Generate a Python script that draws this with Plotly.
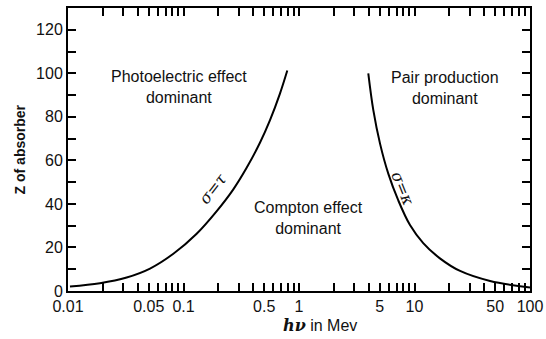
import numpy as np
import plotly.graph_objects as go

# sigma = tau boundary (photoelectric / Compton)
tau_hv = [0.0104, 0.0189, 0.0322, 0.0513, 0.0817, 0.130, 0.194, 0.270, 0.352, 0.459, 0.561, 0.684, 0.792]
tau_z = [2.1, 3.6, 6.2, 10.3, 17.1, 26.3, 36.7, 46.7, 56.6, 68.1, 78.5, 90.7, 101.3]

# sigma = kappa boundary (Compton / pair production)
kap_hv = [3.98, 4.40, 5.03, 5.93, 7.24, 9.14, 11.9, 16.6, 24.8, 45.1, 100.0]
kap_z = [100.0, 83.1, 67.7, 53.9, 41.6, 30.3, 22.0, 15.0, 9.2, 4.6, 1.6]

x_tick_vals = [m * 10.0 ** e for e in (-2, -1, 0, 1) for m in range(1, 10)] + [100]
x_label_map = {0.01: "0.01", 0.05: "0.05", 0.1: "0.1", 0.5: "0.5", 1: "1", 5: "5", 10: "10", 50: "50", 100: "100"}
y_tick_vals = list(range(0, 130, 10))
y_labels = [str(v) if v % 20 == 0 else "" for v in y_tick_vals]


def lbl(v):
    for k, s in x_label_map.items():
        if abs(v - k) < 1e-9 * max(1, k):
            return s
    return ""


x_tick_text = [lbl(v) for v in x_tick_vals]

fig = go.Figure()
line_style = dict(color="black", width=2, shape="spline", smoothing=1.0)
fig.add_trace(go.Scatter(x=tau_hv, y=tau_z, mode="lines", line=line_style, hoverinfo="skip"))
fig.add_trace(go.Scatter(x=kap_hv, y=kap_z, mode="lines", line=line_style, hoverinfo="skip"))

SANS = "Liberation Sans, Arial, sans-serif"
txt_font = dict(family=SANS, size=16, color="#111111")
annos = [
    dict(x=np.log10(0.0914), y=93.6, text="Photoelectric effect<br>dominant"),
    dict(x=np.log10(18.4), y=93.2, text="Pair production<br>dominant"),
    dict(x=np.log10(1.22), y=33.4, text="Compton effect<br>dominant"),
]
for a in annos:
    fig.add_annotation(x=a["x"], y=a["y"], text=a["text"], showarrow=False, font=txt_font, xref="x", yref="y")

greek_font = dict(family="DejaVu Serif, serif", size=16, color="#111111")
fig.add_annotation(x=np.log10(0.18), y=47, text="<i>σ=τ</i>", showarrow=False, textangle=-52, font=greek_font)
fig.add_annotation(x=np.log10(7.9), y=47, text="<i>σ=κ</i>", showarrow=False, textangle=68, font=greek_font)

# axis titles as annotations for exact placement
fig.add_annotation(xref="paper", yref="paper", x=0.545, y=-0.122, yanchor="middle", showarrow=False,
                   text="<b><i><span style='font-family:DejaVu Serif'>hν</span></i></b> in Mev",
                   font=dict(family=SANS, size=16, color="#111111"))
fig.add_annotation(xref="paper", yref="paper", x=-0.104, y=0.5, xanchor="center", yanchor="middle", showarrow=False,
                   textangle=-90, text="<b>Z of absorber</b>", font=dict(family=SANS, size=14, color="#111111"))

axis_common = dict(showline=True, linecolor="black", linewidth=2, mirror="allticks", ticks="inside",
                   tickcolor="black", tickwidth=1.5, ticklen=8, showgrid=False, zeroline=False, automargin=False,
                   tickfont=dict(family=SANS, size=16, color="#111111"))

fig.update_xaxes(type="log", range=[-2, 2], tickmode="array", tickvals=x_tick_vals, ticktext=x_tick_text,
                 ticklabeloverflow="allow", **axis_common)
fig.update_yaxes(range=[0, 130], tickmode="array", tickvals=y_tick_vals, ticktext=y_labels, **axis_common)

fig.update_layout(width=546, height=339, margin=dict(l=68, r=16, t=8, b=48), showlegend=False,
                  plot_bgcolor="white", paper_bgcolor="white")

fig.write_html("out.html", config={"displayModeBar": False},
               post_script="document.body.style.margin='0';document.body.style.overflow='hidden';")
